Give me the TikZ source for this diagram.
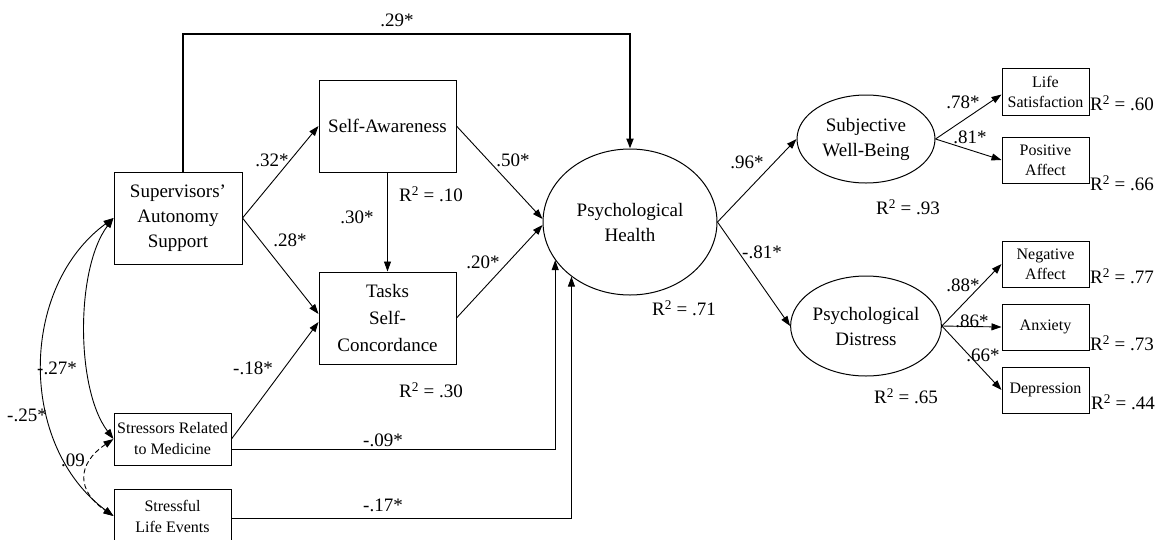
\documentclass[tikz,border=0pt]{standalone}
\usepackage{fontspec}
\setmainfont{Liberation Serif}
\usetikzlibrary{arrows.meta,calc,shapes.geometric}
\newcommand{\Rsq}[1]{R\textsuperscript{2} = #1}
\begin{document}
\begin{tikzpicture}[x=1pt,y=-1pt,
  bigbox/.style={draw,line width=1pt,inner sep=0pt,align=center,font=\fontsize{19}{25}\selectfont},
  smallbox/.style={draw,line width=1pt,inner sep=0pt,align=center,minimum width=87pt,minimum height=46pt,font=\fontsize{16}{20}\selectfont},
  latent/.style={draw,ellipse,line width=1pt,inner sep=0pt,align=center,font=\fontsize{19}{25}\selectfont},
  arr/.style={-{Triangle[length=10pt,width=7pt]},line width=0.9pt},
  cov/.style={{Triangle[length=10pt,width=7pt]}-{Triangle[length=10pt,width=7pt]},line width=0.9pt},
  lbl/.style={inner sep=0pt,font=\fontsize{19}{22}\selectfont}]
\useasboundingbox (0,0) rectangle (1163,539);
% observed / latent nodes
\node[bigbox,minimum width=128pt,minimum height=92pt] (SUP) at (178,218) {Supervisors’\\Autonomy\\Support};
\node[bigbox,minimum width=137pt,minimum height=92pt] (SA) at (387.5,126) {Self-Awareness};
\node[bigbox,minimum width=137pt,minimum height=92pt,font=\fontsize{19}{27}\selectfont] (TSC) at (387.5,318) {Tasks\\Self-\\Concordance};
\node[bigbox,minimum width=117pt,minimum height=52pt,font=\fontsize{16}{21}\selectfont] (STR) at (172.5,439) {Stressors Related\\to Medicine};
\node[bigbox,minimum width=117pt,minimum height=54pt,font=\fontsize{16}{21}\selectfont] (SLE) at (172.5,516) {Stressful\\Life Events};
\node[latent,minimum width=174pt,minimum height=146pt] (PH) at (630,222) {Psychological\\Health};
\node[latent,minimum width=138pt,minimum height=88pt] (SWB) at (866,139) {Subjective\\Well-Being};
\node[latent,minimum width=138pt,minimum height=100pt] (PD) at (866,326) {Psychological\\Distress};
\node[smallbox,minimum height=47pt] (LS) at (1045.5,91.5) {Life\\Satisfaction};
\node[smallbox] (PA) at (1045.5,160) {Positive\\Affect};
\node[smallbox] (NA) at (1045.5,264) {Negative\\Affect};
\node[smallbox] (ANX) at (1045.5,327) {Anxiety};
\node[smallbox] (DEP) at (1045.5,390) {Depression};
% paths
\draw[arr,line width=2pt] ($(SUP.north)+(5,0)$) |- ($(PH.north)+(0,-115)$) -- (PH.north);
\draw[arr] (SUP.east) -- (SA.west);
\draw[arr] (SUP.east) -- ($(TSC.west)+(0,-4)$);
\draw[arr] (STR.east) -- ($(TSC.west)+(0,4)$);
\draw[arr] (SA.south) -- (TSC.north);
\draw[arr] (SA.east) -- ($(PH.west)+(0,-3)$);
\draw[arr] (TSC.east) -- ($(PH.west)+(0,3)$);
\draw[arr] ($(STR.east)+(0,10)$) -| (PH.207);
\draw[arr] ($(SLE.east)+(0,2)$) -| (PH.223);
\draw[arr] (PH.east) -- (SWB.west);
\draw[arr] (PH.east) -- (PD.west);
\draw[arr] (SWB.east) -- ($(LS.west)+(0,3)$);
\draw[arr] (SWB.east) -- (PA.west);
\draw[arr] (PD.east) -- (NA.west);
\draw[arr] (PD.east) -- (ANX.west);
\draw[arr] (PD.east) -- (DEP.west);
% covariances
\draw[cov] (SUP.west) .. controls +(-38,50) and +(-38,-50) .. (STR.west);
\draw[cov] (SUP.west) .. controls +(-95,70) and +(-95,-70) .. (SLE.west);
\draw[cov,dash pattern=on 5pt off 3pt] (STR.west) .. controls +(-37,25) and +(-37,-25) .. (SLE.west);
% labels
\node[lbl] (l29) at (397,20) {.29*};
\node[lbl] (l32) at (272,160) {.32*};
\node[lbl] (l28) at (290,240) {.28*};
\node[lbl] (l50) at (513,160) {.50*};
\node[lbl] (l20) at (483,262) {.20*};
\node[lbl] (l30) at (357,217) {.30*};
\node[lbl] (r10) at (431,194) {\Rsq{.10}};
\node[lbl] (l18) at (253,368) {-.18*};
\node[lbl] (r30) at (431,390) {\Rsq{.30}};
\node[lbl] (l09a) at (383,440) {-.09*};
\node[lbl] (l17) at (383,505) {-.17*};
\node[lbl] (r71) at (684,308) {\Rsq{.71}};
\node[lbl] (l96) at (747,162) {.96*};
\node[lbl] (l81n) at (762,252) {-.81*};
\node[lbl] (r93) at (908,207) {\Rsq{.93}};
\node[lbl] (r65) at (906,396) {\Rsq{.65}};
\node[lbl] (l78) at (963,102) {.78*};
\node[lbl] (l81) at (970,137) {.81*};
\node[lbl] (r60) at (1122,103) {\Rsq{.60}};
\node[lbl] (r66) at (1122,183) {\Rsq{.66}};
\node[lbl] (l88) at (963,285) {.88*};
\node[lbl] (l86) at (972,321) {.86*};
\node[lbl] (l66) at (983,355) {.66*};
\node[lbl] (r77) at (1122,276) {\Rsq{.77}};
\node[lbl] (r73) at (1122,343) {\Rsq{.73}};
\node[lbl] (r44) at (1123,402) {\Rsq{.44}};
\node[lbl] (l27) at (57,368) {-.27*};
\node[lbl] (l25) at (27,415) {-.25*};
\node[lbl] (l09) at (73,460) {.09};
\end{tikzpicture}
\end{document}
